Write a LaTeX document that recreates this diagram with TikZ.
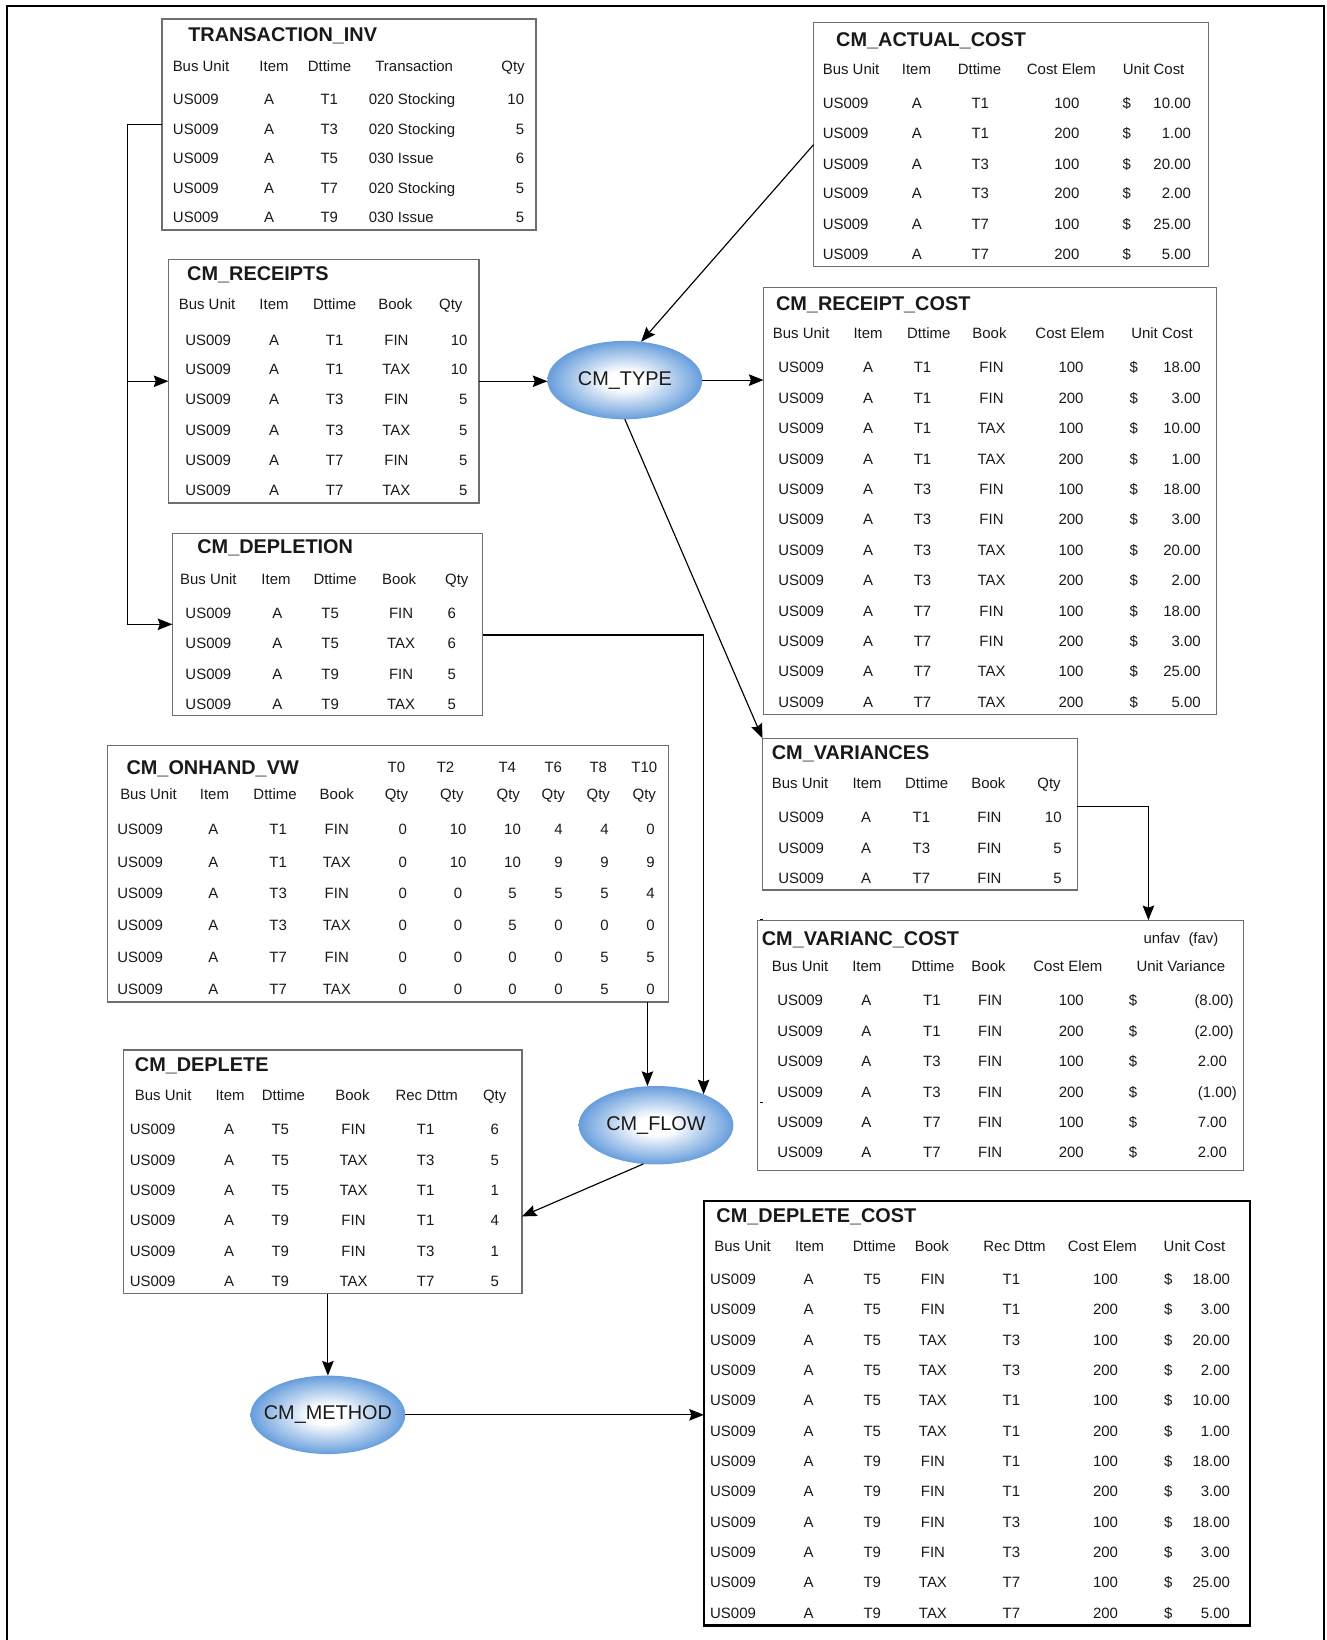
\documentclass[tikz,border=0pt]{standalone}
\usepackage{fontspec}
\setmainfont{Liberation Sans}
\usetikzlibrary{arrows.meta,shapes.geometric}

\definecolor{ovalblue}{RGB}{102,157,220}
\definecolor{framegray}{RGB}{110,110,110}
\definecolor{inkgray}{RGB}{25,25,25}

% soft blue oval: white core fading to blue rim
\pgfdeclareradialshading{ovalshade}{\pgfpoint{0bp}{0bp}}{%
  color(0bp)=(white); color(6bp)=(white); color(14bp)=(ovalblue!42);
  color(21bp)=(ovalblue!78); color(25bp)=(ovalblue); color(50bp)=(ovalblue)}

\newcommand\cellfont{\fontsize{14.3}{16}\selectfont}
\newcommand\titlefont{\fontsize{19}{22}\selectfont\bfseries}
\newcommand\ovalfont{\fontsize{19}{22}\selectfont}
\newcommand\ovaltext[1]{\makebox[0pt][c]{#1}}

% one table row: name prefix, y, list of x/anchor/text
\newcommand\rowcells[3]{%
  \foreach \cx/\ca/\ct [count=\ci] in {#3}{%
    \node[cell,anchor=\ca] (#1-\ci) at (\cx,#2) {\ct};}}

\newcommand\tinvrow[5]{\rowcells{tinv-#1}{#2}{165.4/west/US009,257.2/center/A,314.8/center/#3,352.6/west/#4,501.1/east/#5}}
\newcommand\rcptrow[5]{\rowcells{rcpt-#1}{#2}{199/center/US009,262/center/A,320/center/#3,379/center/#4,447/east/#5}}
\newcommand\acostrow[5]{\rowcells{acost-#1}{#2}{786.7/west/US009,876.6/center/A,937.2/center/#3,1020/center/#4,1077.4/center/\$,1138.6/east/#5}}
\newcommand\rcostrow[6]{\rowcells{rcost-#1}{#2}{766/center/US009,830/center/A,882/center/#3,948/center/#4,1024/center/#5,1084/center/\$,1148/east/#6}}
\newcommand\deplrow[5]{\rowcells{depl-#1}{#2}{199.2/center/US009,265.2/center/A,315.6/center/#3,383.5/center/#4,432/center/#5}}
\newcommand\varsrow[5]{\rowcells{vars-#1}{#2}{766/center/US009,828/center/A,881/center/#3,946/center/#4,1015/east/#5}}
\newcommand\vcostrow[6]{\rowcells{vcost-#1}{#2}{765/center/US009,828.2/center/A,891/center/#3,946.7/center/FIN,1024.2/center/#4,1083.2/center/\$,#5/east/#6}}
\newcommand\onhrow[9]{\rowcells{onh-r#1}{#1}{134/center/US009,204/center/A,266/center/#2,322/center/#3,385/center/#4,438/center/#5,490/center/#6,534/center/#7,578/center/#8,622/center/#9}}
\newcommand\dpltrow[6]{\rowcells{dplt-#1}{#2}{146/center/US009,219/center/A,268/center/#3,338/center/#4,407/center/#5,473/center/#6}}
\newcommand\dcostrow[7]{\rowcells{dcost-#1}{#2}{679/west/US009,773/center/A,834/center/#3,892/center/#4,967/center/#5,1057/center/#6,1117/center/\$,1176/east/#7}}

\begin{document}
\begin{tikzpicture}[x=1pt,y=-1pt,
  tbox/.style={draw=framegray,line width=1.3pt,inner sep=0pt,outer sep=0pt,anchor=north west},
  boldbox/.style={draw=black,line width=2.2pt,inner sep=0pt,outer sep=0pt,anchor=north west},
  cell/.style={inner sep=0pt,outer sep=0pt,font=\cellfont,text=inkgray,text height=10.2pt,text depth=0pt},
  ttl/.style={inner sep=0pt,outer sep=0pt,font=\titlefont,text=inkgray,text height=13.6pt,text depth=0pt,anchor=west},
  proc/.style={ellipse,shade,shading=ovalshade,minimum width=148pt,minimum height=75pt,inner sep=0pt,outer sep=0pt,font=\ovalfont,text=inkgray},
  link/.style={draw=black,line width=1.1pt},
  arr/.style={link,-{Stealth[length=14pt,width=11pt,inset=2pt]}}]

\useasboundingbox (0,0) rectangle (1268,1568);
% page frame, open at the bottom
\draw[line width=2pt] (6.7,1568) -- (6.7,5.7) -- (1266,5.7) -- (1266,1568);

% ---------- TRANSACTION_INV ----------
\node[tbox,minimum width=357.6pt,minimum height=201.8pt] (tinv) at (155,18.2) {};
\node[ttl] (tinv-t) at (180,32.5) {TRANSACTION\_INV};
\rowcells{tinv-h}{63}{192.2/center/Bus Unit,262/center/Item,315/center/Dttime,396/center/Transaction,490.5/center/Qty}
\tinvrow{r1}{94.7}{T1}{020 Stocking}{10}
\tinvrow{r2}{123.4}{T3}{020 Stocking}{5}
\tinvrow{r3}{151.4}{T5}{030 Issue}{6}
\tinvrow{r4}{180.1}{T7}{020 Stocking}{5}
\tinvrow{r5}{207.8}{T9}{030 Issue}{5}

% ---------- CM_RECEIPTS ----------
\node[tbox,minimum width=297pt,minimum height=233pt] (rcpt) at (161,248) {};
\node[ttl] (rcpt-t) at (179,261) {CM\_RECEIPTS};
\rowcells{rcpt-h}{291}{198/center/Bus Unit,262/center/Item,320/center/Dttime,378/center/Book,431/center/Qty}
\rcptrow{r1}{325}{T1}{FIN}{10}
\rcptrow{r2}{353}{T1}{TAX}{10}
\rcptrow{r3}{382}{T3}{FIN}{5}
\rcptrow{r4}{411}{T3}{TAX}{5}
\rcptrow{r5}{440}{T7}{FIN}{5}
\rcptrow{r6}{469}{T7}{TAX}{5}

% ---------- CM_DEPLETION ----------
\node[tbox,minimum width=296.8pt,minimum height=173.8pt] (depl) at (164.8,510) {};
\node[ttl] (depl-t) at (188.7,522.8) {CM\_DEPLETION};
\rowcells{depl-h}{554}{199.2/center/Bus Unit,263.9/center/Item,320.4/center/Dttime,381.6/center/Book,436.7/center/Qty}
\deplrow{r1}{586.5}{T5}{FIN}{6}
\deplrow{r2}{615.2}{T5}{TAX}{6}
\deplrow{r3}{644.6}{T9}{FIN}{5}
\deplrow{r4}{672.9}{T9}{TAX}{5}

% ---------- CM_ACTUAL_COST ----------
\node[tbox,minimum width=377.7pt,minimum height=233.3pt] (acost) at (777.8,21.7) {};
\node[ttl] (acost-t) at (799.5,37.3) {CM\_ACTUAL\_COST};
\rowcells{acost-h}{66.3}{786.7/west/Bus Unit,862.3/west/Item,915.8/west/Dttime,981.8/west/Cost Elem,1073.6/west/Unit Cost}
\acostrow{r1}{98.5}{T1}{100}{10.00}
\acostrow{r2}{127.5}{T1}{200}{1.00}
\acostrow{r3}{156.5}{T3}{100}{20.00}
\acostrow{r4}{185}{T3}{200}{2.00}
\acostrow{r5}{214.5}{T7}{100}{25.00}
\acostrow{r6}{243.2}{T7}{200}{5.00}

% ---------- CM_RECEIPT_COST ----------
\node[tbox,minimum width=433pt,minimum height=408pt] (rcost) at (730,275) {};
\node[ttl] (rcost-t) at (742,290) {CM\_RECEIPT\_COST};
\rowcells{rcost-h}{319}{766/center/Bus Unit,830/center/Item,888/center/Dttime,946/center/Book,1023/center/Cost Elem,1111/center/Unit Cost}
\rcostrow{r1}{351.5}{T1}{FIN}{100}{18.00}
\rcostrow{r2}{380.6}{T1}{FIN}{200}{3.00}
\rcostrow{r3}{409.6}{T1}{TAX}{100}{10.00}
\rcostrow{r4}{438.7}{T1}{TAX}{200}{1.00}
\rcostrow{r5}{467.7}{T3}{FIN}{100}{18.00}
\rcostrow{r6}{496.8}{T3}{FIN}{200}{3.00}
\rcostrow{r7}{525.8}{T3}{TAX}{100}{20.00}
\rcostrow{r8}{554.9}{T3}{TAX}{200}{2.00}
\rcostrow{r9}{583.9}{T7}{FIN}{100}{18.00}
\rcostrow{r10}{613}{T7}{FIN}{200}{3.00}
\rcostrow{r11}{642}{T7}{TAX}{100}{25.00}
\rcostrow{r12}{671.1}{T7}{TAX}{200}{5.00}

% ---------- CM_VARIANCES ----------
\node[tbox,minimum width=301pt,minimum height=145pt] (vars) at (729,706) {};
\node[ttl] (vars-t) at (738,719) {CM\_VARIANCES};
\rowcells{vars-h}{749}{765/center/Bus Unit,829/center/Item,886/center/Dttime,945/center/Book,1003/center/Qty}
\varsrow{r1}{781}{T1}{FIN}{10}
\varsrow{r2}{811}{T3}{FIN}{5}
\varsrow{r3}{840}{T7}{FIN}{5}

% ---------- CM_VARIANC_COST ----------
\node[tbox,minimum width=464.8pt,minimum height=239.1pt] (vcost) at (724.2,879.8) {};
\node[ttl] (vcost-t) at (728.4,897.3) {CM\_VARIANC\_COST};
\node[cell,anchor=west] (vcost-n) at (1093.4,897.3) {unfav\ \ (fav)};
\rowcells{vcost-h}{923.5}{765/center/Bus Unit,828.8/center/Item,891.9/center/Dttime,945.1/center/Book,1021/center/Cost Elem,1129/center/Unit Variance}
\vcostrow{r1}{956.3}{T1}{100}{1179.4}{(8.00)}
\vcostrow{r2}{985.9}{T1}{200}{1179.4}{(2.00)}
\vcostrow{r3}{1014.6}{T3}{100}{1173}{2.00}
\vcostrow{r4}{1044}{T3}{200}{1182.6}{(1.00)}
\vcostrow{r5}{1072.7}{T7}{100}{1173}{7.00}
\vcostrow{r6}{1101.4}{T7}{200}{1173}{2.00}
\draw[line width=1pt] (726.5,879.1) -- (729.5,879.1);
\draw[line width=1pt] (726.5,1054) -- (729.5,1054);

% ---------- CM_ONHAND_VW ----------
\node[tbox,minimum width=536pt,minimum height=245pt] (onh) at (103,713) {};
\node[ttl] (onh-t) at (121,734) {CM\_ONHAND\_VW};
\rowcells{onh-p}{733}{379/center/T0,426/center/T2,485/center/T4,529/center/T6,572/center/T8,616/center/T10}
\rowcells{onh-h}{759}{142/center/Bus Unit,205/center/Item,263/center/Dttime,322/center/Book,379/center/Qty,432/center/Qty,486/center/Qty,529/center/Qty,572/center/Qty,616/center/Qty}
\onhrow{793}{T1}{FIN}{0}{10}{10}{4}{4}{0}
\onhrow{824}{T1}{TAX}{0}{10}{10}{9}{9}{9}
\onhrow{854}{T3}{FIN}{0}{0}{5}{5}{5}{4}
\onhrow{885}{T3}{TAX}{0}{0}{5}{0}{0}{0}
\onhrow{915}{T7}{FIN}{0}{0}{0}{0}{5}{5}
\onhrow{946}{T7}{TAX}{0}{0}{0}{0}{5}{0}

% ---------- CM_DEPLETE ----------
\node[tbox,minimum width=381pt,minimum height=233pt] (dplt) at (118,1004) {};
\node[ttl] (dplt-t) at (129,1018) {CM\_DEPLETE};
\rowcells{dplt-h}{1047}{156/center/Bus Unit,220/center/Item,271/center/Dttime,337/center/Book,408/center/Rec Dttm,473/center/Qty}
\dpltrow{r1}{1080}{T5}{FIN}{T1}{6}
\dpltrow{r2}{1109}{T5}{TAX}{T3}{5}
\dpltrow{r3}{1138}{T5}{TAX}{T1}{1}
\dpltrow{r4}{1167}{T9}{FIN}{T1}{4}
\dpltrow{r5}{1196}{T9}{FIN}{T3}{1}
\dpltrow{r6}{1225}{T9}{TAX}{T7}{5}

% ---------- CM_DEPLETE_COST ----------
\node[boldbox,minimum width=522pt,minimum height=406pt] (dcost) at (673,1148) {};
\node[ttl] (dcost-t) at (685,1162) {CM\_DEPLETE\_COST};
\rowcells{dcost-h}{1191}{710/center/Bus Unit,774/center/Item,836/center/Dttime,891/center/Book,970/center/Rec Dttm,1054/center/Cost Elem,1142/center/Unit Cost}
\dcostrow{r1}{1223}{T5}{FIN}{T1}{100}{18.00}
\dcostrow{r2}{1252}{T5}{FIN}{T1}{200}{3.00}
\dcostrow{r3}{1281}{T5}{TAX}{T3}{100}{20.00}
\dcostrow{r4}{1310}{T5}{TAX}{T3}{200}{2.00}
\dcostrow{r5}{1339}{T5}{TAX}{T1}{100}{10.00}
\dcostrow{r6}{1368}{T5}{TAX}{T1}{200}{1.00}
\dcostrow{r7}{1397}{T9}{FIN}{T1}{100}{18.00}
\dcostrow{r8}{1426}{T9}{FIN}{T1}{200}{3.00}
\dcostrow{r9}{1455}{T9}{FIN}{T3}{100}{18.00}
\dcostrow{r10}{1484}{T9}{FIN}{T3}{200}{3.00}
\dcostrow{r11}{1513}{T9}{TAX}{T7}{100}{25.00}
\dcostrow{r12}{1542}{T9}{TAX}{T7}{200}{5.00}

% ---------- processes ----------
\node[proc] (ctype) at (597.4,363.4) {\ovaltext{CM\_TYPE}};
\node[proc] (flow) at (627.2,1075.8) {\ovaltext{CM\_FLOW}};
\node[proc] (method) at (313.5,1352.7) {\ovaltext{CM\_METHOD}};

% ---------- connectors ----------
\coordinate (trunk) at (121.5,119.1);
\draw[arr] (tinv.west) -- (trunk |- tinv.west) |- (depl.west);
\draw[arr] (trunk |- rcpt.west) -- (rcpt.west);
\draw[arr] (rcpt.east) -- (rcpt.east -| ctype.west);
\draw[arr] (ctype.east) -- (ctype.east -| rcost.west);
\draw[arr] (acost.west) -- (ctype.67);
\draw[arr] (ctype.south) -- (vars.north west);
\draw[arr] ([yshift=7.5pt]vars.east) -| ([xshift=141.4pt]vcost.north);
\draw[arr] ([yshift=-10.2pt]depl.east) -| (flow.33);
\coordinate (flowin) at ([xshift=-8.2pt]flow.north);
\draw[arr] (flowin |- onh.south) -- (flowin);
\draw[arr] (flow.252) -- ([yshift=-42.5pt]dplt.east);
\draw[arr] (method.north |- dplt.south) -- (method.north);
\draw[arr] (method.east) -- (method.east -| dcost.west);
\end{tikzpicture}
\end{document}
